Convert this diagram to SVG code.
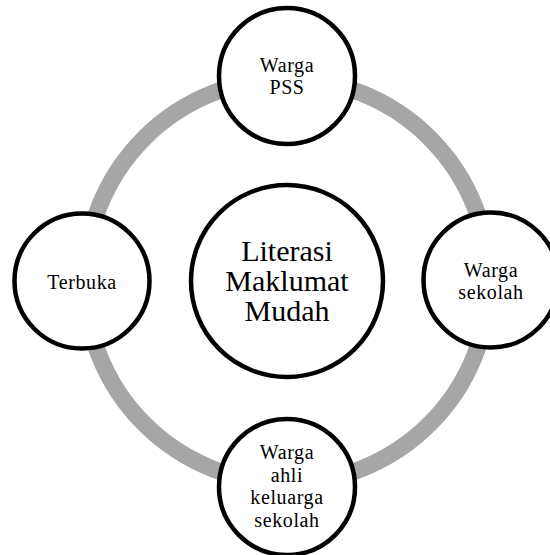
<svg xmlns="http://www.w3.org/2000/svg" width="550" height="555" viewBox="0 0 550 555">
<style>
.node{fill:#ffffff;stroke:#000000;stroke-width:4.5}
.lbl{font-family:"Liberation Serif","Times New Roman",serif;font-size:20px;letter-spacing:0.6px;fill:#000000;text-anchor:middle}
.big{font-family:"Liberation Serif","Times New Roman",serif;font-size:30px;fill:#000000;text-anchor:middle}
.ring{fill:none;stroke:#A6A6A6;stroke-width:17}
</style>
<rect width="550" height="555" fill="#ffffff"/>
<g id="connectors">
<circle class="ring" cx="287" cy="281" r="202"/>
</g>
<g id="center">
<circle class="node" cx="287" cy="281" r="96"/>
<text class="big" x="287" y="261">Literasi</text>
<text class="big" x="287" y="291">Maklumat</text>
<text class="big" x="287" y="321">Mudah</text>
</g>
<g id="top">
<circle class="node" cx="287" cy="76" r="68"/>
<text class="lbl" x="287" y="71.5">Warga</text>
<text class="lbl" x="287" y="94">PSS</text>
</g>
<g id="right">
<circle class="node" cx="491" cy="280" r="67.5"/>
<text class="lbl" x="491" y="276.5">Warga</text>
<text class="lbl" x="491" y="299">sekolah</text>
</g>
<g id="bottom">
<circle class="node" cx="287" cy="487" r="68"/>
<text class="lbl" x="287" y="459">Warga</text>
<text class="lbl" x="287" y="481.5">ahli</text>
<text class="lbl" x="287" y="504">keluarga</text>
<text class="lbl" x="287" y="526.5">sekolah</text>
</g>
<g id="left">
<circle class="node" cx="82" cy="281" r="67.5"/>
<text class="lbl" x="82" y="289">Terbuka</text>
</g>
</svg>
